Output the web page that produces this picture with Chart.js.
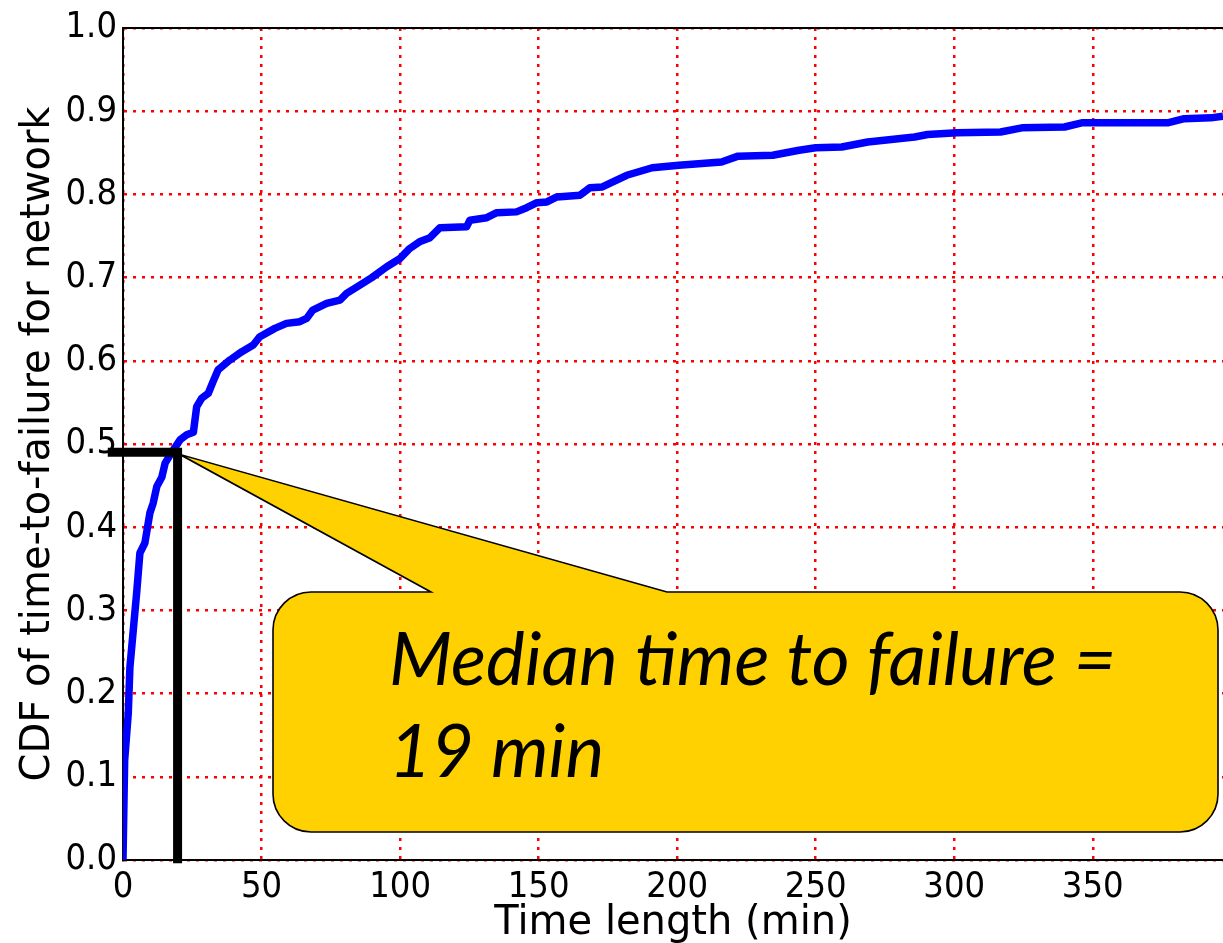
<!DOCTYPE html>
<html>
<head>
<meta charset="utf-8">
<title>CDF of time-to-failure for network</title>
<script src="https://cdn.jsdelivr.net/npm/chart.js@4.4.1/dist/chart.umd.min.js"></script>
<style>
    html, body { margin: 0; padding: 0; background: #ffffff; }
    #wrap { width: 1223px; height: 943px; }
</style>
</head>
<body>
<div id="wrap"><canvas id="cdf" width="1223" height="943"></canvas></div>
<script>
// CDF curve (x in minutes, y as fraction)
const timeMin = [
    0, 0.6, 1.9, 2.5, 3.7, 4.9, 6.1, 7.9, 9.7, 10.9, 12.2, 14, 15.2, 17.6, 20.6, 23, 25.4,
    26.6, 28.4, 30.8, 32.5, 34.3, 38.6, 42.9, 47, 49.4, 54.8, 59, 63.8, 66.3, 68.5, 73.5,
    78.3, 80.7, 85.5, 89.8, 95.2, 100, 103.5, 107, 110.8, 114.4, 124, 125.2, 131.3, 134.9,
    142, 145.7, 149.4, 153, 156.6, 164.9, 168.5, 173, 176.8, 181.8, 191, 200.6, 216, 222,
    234.5, 244, 250, 259.4, 268.8, 285.7, 290.4, 301, 316.7, 324.4, 339.8, 346, 377, 383,
    392.6, 397
];
const cdfValue = [
    0, 0.12, 0.176, 0.232, 0.276, 0.32, 0.369, 0.381, 0.417, 0.429, 0.449, 0.46, 0.477, 0.49, 0.505, 0.511, 0.514,
    0.545, 0.555, 0.561, 0.575, 0.589, 0.601, 0.611, 0.619, 0.629, 0.639, 0.645, 0.647, 0.651, 0.661, 0.669,
    0.673, 0.681, 0.691, 0.70, 0.713, 0.723, 0.735, 0.743, 0.748, 0.76, 0.761, 0.769, 0.772, 0.778,
    0.779, 0.784, 0.79, 0.791, 0.797, 0.799, 0.808, 0.809, 0.815, 0.823, 0.832, 0.835, 0.839, 0.846,
    0.847, 0.853, 0.856, 0.857, 0.863, 0.869, 0.872, 0.874, 0.875, 0.88, 0.881, 0.886, 0.886, 0.891,
    0.892, 0.894
];

// thick black median marker (horizontal then down to the axis)
const medianX = [-5.5, 19.7, 19.7];
const medianY = [0.49, 0.49, -0.004];

const xTicks = [0, 50, 100, 150, 200, 250, 300, 350];
const yTicks = [0.0, 0.1, 0.2, 0.3, 0.4, 0.5, 0.6, 0.7, 0.8, 0.9, 1.0];
const xMax = 397;

const xTitle = 'Time length (min)';
const yTitle = 'CDF of time-to-failure for network';
const calloutLines = ['Median time to failure =', '19 min'];

const tickFont = { family: 'DejaVu Sans Condensed', size: 36 };
const titleFont = { family: 'DejaVu Sans', size: 40, lineHeight: 0.95 };
const gridStyle = { color: '#ff0000', lineWidth: 2.5, drawTicks: false };
const borderStyle = { display: true, color: '#000000', width: 2, dash: [3, 6] };

// yellow speech bubble pointing at the median
const calloutPlugin = {
    id: 'callout',
    afterDraw(chart) {
        const ctx = chart.ctx;
        const tipX = chart.scales.x.getPixelForValue(medianX[1]) + 2;
        const tipY = chart.scales.y.getPixelForValue(medianY[1]) + 2;
        const L = 273, T = 592, R = 1218, B = 832, r = 38;
        const baseA = 431, baseB = 667;

        ctx.save();
        ctx.beginPath();
        ctx.moveTo(L + r, T);
        ctx.lineTo(baseA, T);
        ctx.lineTo(tipX, tipY);
        ctx.lineTo(baseB, T);
        ctx.lineTo(R - r, T);
        ctx.arcTo(R, T, R, T + r, r);
        ctx.lineTo(R, B - r);
        ctx.arcTo(R, B, R - r, B, r);
        ctx.lineTo(L + r, B);
        ctx.arcTo(L, B, L, B - r, r);
        ctx.lineTo(L, T + r);
        ctx.arcTo(L, T, L + r, T, r);
        ctx.closePath();
        ctx.fillStyle = '#ffd100';
        ctx.fill();
        ctx.lineWidth = 1.6;
        ctx.strokeStyle = '#000000';
        ctx.stroke();

        // fit first line to the width it takes in the figure
        let size = 70;
        ctx.font = 'italic ' + size + 'px Lato';
        size = size * 727 / ctx.measureText(calloutLines[0]).width;
        ctx.font = 'italic ' + size.toFixed(1) + 'px Lato';
        ctx.fillStyle = '#000000';
        ctx.textBaseline = 'alphabetic';
        ctx.textAlign = 'left';
        ctx.fillText(calloutLines[0], 389, 685);
        ctx.fillText(calloutLines[1], 389, 777);
        ctx.restore();
    }
};

new Chart(document.getElementById('cdf'), {
    type: 'line',
    data: {
        datasets: [
            {
                label: 'median',
                data: medianX.map((x, i) => ({ x: x, y: medianY[i] })),
                borderColor: '#000000',
                borderWidth: 9,
                borderJoinStyle: 'miter',
                borderCapStyle: 'butt',
                pointRadius: 0,
                clip: false,
                order: 0
            },
            {
                label: 'CDF',
                data: timeMin.map((x, i) => ({ x: x, y: cdfValue[i] })),
                borderColor: '#0000ff',
                borderWidth: 7.5,
                borderJoinStyle: 'round',
                pointRadius: 0,
                tension: 0,
                order: 1
            }
        ]
    },
    options: {
        responsive: false,
        animation: false,
        layout: { padding: { top: 28, right: 0, bottom: 0, left: 0 } },
        plugins: {
            legend: { display: false },
            tooltip: { enabled: false }
        },
        scales: {
            x: {
                type: 'linear',
                min: 0,
                max: xMax,
                afterBuildTicks: s => { s.ticks = xTicks.map(v => ({ value: v })); },
                afterFit: s => { s.height = 83; },
                ticks: { color: '#000000', font: tickFont, padding: 6, maxRotation: 0, autoSkip: false,
                         callback: v => String(v) },
                grid: gridStyle,
                border: borderStyle,
                title: { display: true, text: xTitle, color: '#000000', font: titleFont,
                         padding: { top: 0, bottom: 0 } }
            },
            xTop: {
                type: 'linear',
                position: 'top',
                min: 0,
                max: xMax,
                ticks: { display: false },
                grid: { display: false, drawTicks: false },
                border: { display: true, color: '#000000', width: 2 }
            },
            y: {
                min: 0,
                max: 1,
                afterBuildTicks: s => { s.ticks = yTicks.map(v => ({ value: v })); },
                afterFit: s => { s.width = 123; },
                ticks: { color: '#000000', font: tickFont, padding: 6, callback: v => v.toFixed(1) },
                grid: gridStyle,
                border: borderStyle,
                title: { display: true, text: yTitle, color: '#000000', font: titleFont,
                         padding: { top: 20, bottom: 0 } }
            }
        }
    },
    plugins: [calloutPlugin]
});
</script>
</body>
</html>
